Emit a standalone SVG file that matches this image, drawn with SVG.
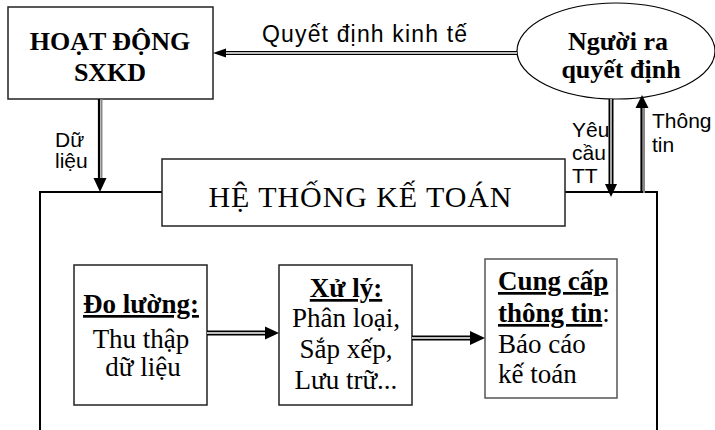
<svg xmlns="http://www.w3.org/2000/svg" width="715" height="430" viewBox="0 0 715 430">
<style>
.box{fill:#fff;stroke:#222;stroke-width:1.5}
.frame{fill:none;stroke:#000;stroke-width:2}
.sans{font-family:"Liberation Sans",Arial,sans-serif;font-size:21px;fill:#000}
.serif{font-family:"Liberation Serif","Times New Roman",serif;font-size:26px;fill:#000}
.in{font-size:27px}
.b{font-weight:bold}
.u{text-decoration:underline}
.mid{text-anchor:middle}
.dbl{stroke:#000;stroke-width:5;fill:none}
.dblin{stroke:#fff;stroke-width:1.3;fill:none}
.thick1{stroke:#000;stroke-width:2.2;fill:none}
.thick2{stroke:#888;stroke-width:2;fill:none}
.head{fill:#000}
</style>
<rect width="715" height="430" fill="#fff"/>
<g id="frame">
<path class="frame" d="M40,430 V192 H162"/>
<path class="frame" d="M558,192 H657 V430"/>
</g>
<g id="hoat-dong">
<rect class="box" x="8" y="7" width="205" height="92"/>
<text class="serif b mid" x="110" y="50">HOẠT ĐỘNG</text>
<text class="serif b mid" x="110" y="81">SXKD</text>
</g>
<g id="nguoi-ra-quyet-dinh">
<ellipse cx="616" cy="51" rx="99" ry="48" fill="#fff" stroke="#000" stroke-width="1.2"/>
<text class="serif b mid" x="618" y="50">Người ra</text>
<text class="serif b mid" x="621" y="78">quyết định</text>
</g>
<g id="he-thong-ke-toan">
<rect class="box" x="162" y="159" width="403" height="67"/>
<text class="serif mid" x="360" y="207" style="font-size:30px" textLength="303" lengthAdjust="spacing">HỆ THỐNG KẾ TOÁN</text>
</g>
<g id="do-luong">
<rect class="box" x="74" y="265" width="133" height="140"/>
<text class="serif in b u mid" x="141" y="313">Đo lường:</text>
<text class="serif in mid" x="141" y="348">Thu thập</text>
<text class="serif in mid" x="143" y="376">dữ liệu</text>
</g>
<g id="xu-ly">
<rect class="box" x="279" y="265" width="133" height="140"/>
<text class="serif in b u mid" x="346" y="297">Xử lý:</text>
<text class="serif in mid" x="346" y="327">Phân loại,</text>
<text class="serif in mid" x="346" y="358">Sắp xếp,</text>
<text class="serif in mid" x="346" y="389">Lưu trữ...</text>
</g>
<g id="cung-cap">
<rect class="box" x="485" y="259" width="132" height="139" style="stroke:#555"/>
<text class="serif in b u" x="498" y="290">Cung cấp</text>
<text class="serif in" x="498" y="322"><tspan class="b u">thông tin</tspan>:</text>
<text class="serif in" x="498" y="353">Báo cáo</text>
<text class="serif in" x="498" y="383">kế toán</text>
</g>
<g id="connectors">
<line class="dbl" x1="517" y1="53" x2="222" y2="53" style="stroke-width:4"/>
<line class="dblin" x1="517" y1="53" x2="222" y2="53"/>
<polygon class="head" points="213,53 226,48.5 226,57.5"/>
<text class="sans" x="262" y="42" style="font-size:23px" textLength="205" lengthAdjust="spacing">Quyết định kinh tế</text>
<line class="thick1" x1="99" y1="99" x2="99" y2="180"/>
<line class="thick2" x1="101.5" y1="99" x2="101.5" y2="180"/>
<polygon class="head" points="100,192 93.5,178 106.5,178"/>
<text class="sans" x="55" y="147">Dữ</text>
<text class="sans" x="55" y="168">liệu</text>
<line class="dbl" x1="611" y1="99" x2="611" y2="186"/>
<line class="dblin" x1="611" y1="99" x2="611" y2="186"/>
<polygon class="head" points="611,197 605,184 617,184"/>
<text class="sans" x="572" y="137">Yêu</text>
<text class="sans" x="572" y="160">cầu</text>
<text class="sans" x="572" y="183">TT</text>
<line class="thick1" x1="641.5" y1="193" x2="641.5" y2="106"/>
<line class="thick2" x1="644" y1="193" x2="644" y2="106"/>
<polygon class="head" points="642,95 635.5,108 648.5,108"/>
<text class="sans" x="652" y="128">Thông</text>
<text class="sans" x="652" y="152">tin</text>
<line class="dbl" x1="207" y1="333" x2="268" y2="333"/>
<line class="dblin" x1="207" y1="333" x2="268" y2="333"/>
<polygon class="head" points="279,333 265,326.5 265,339.5"/>
<line class="dbl" x1="412" y1="338" x2="473" y2="338"/>
<line class="dblin" x1="412" y1="338" x2="473" y2="338"/>
<polygon class="head" points="485,338 470,331 470,345"/>
</g>
</svg>
